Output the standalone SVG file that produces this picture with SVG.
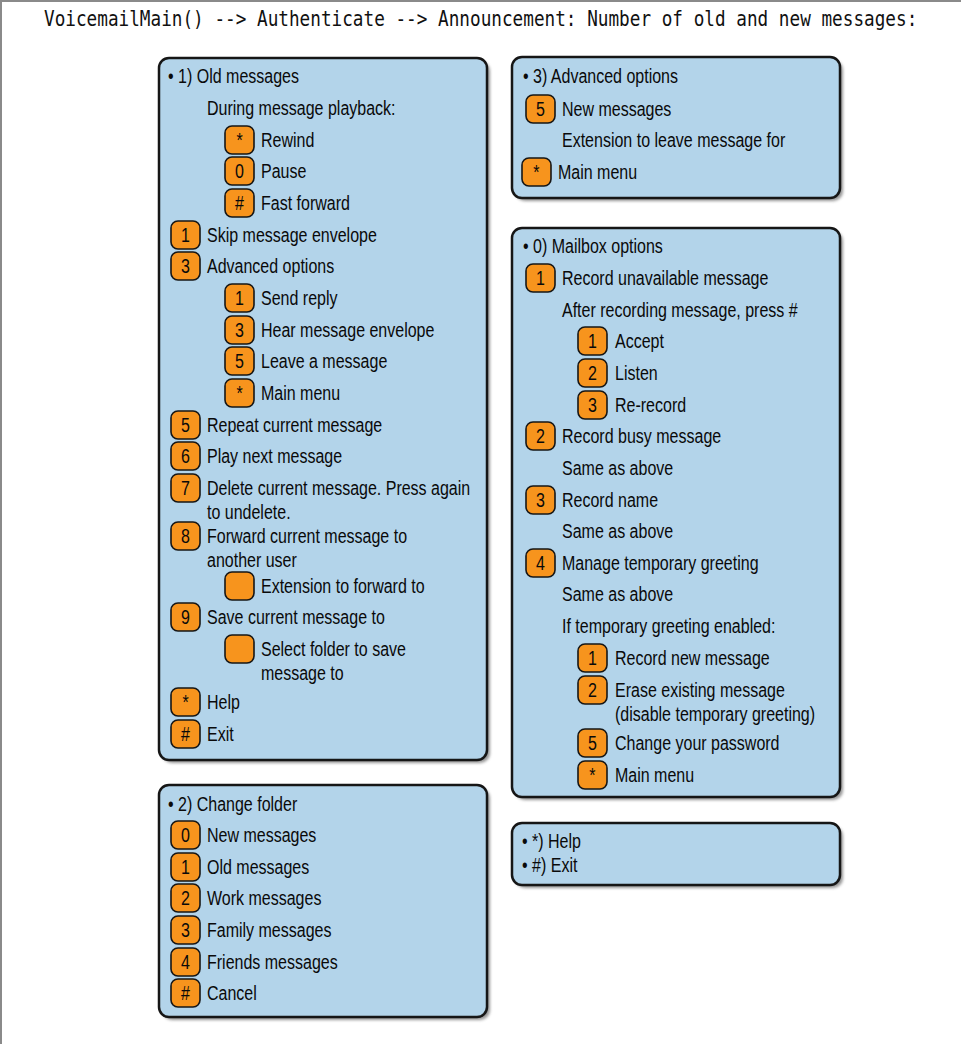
<svg xmlns="http://www.w3.org/2000/svg" width="961" height="1044" viewBox="0 0 961 1044">
<defs>
<filter id="blur" x="-5%" y="-5%" width="110%" height="110%"><feGaussianBlur stdDeviation="1.6"/></filter>
</defs>
<style>
.bg{fill:#ffffff}
.frame{stroke:#8a8a8a;stroke-width:2;fill:none}
.title{font-family:"DejaVu Sans Mono","Liberation Mono",monospace;font-size:17.7px;fill:#111}
.box{fill:#b3d4ea;stroke:#161616;stroke-width:2.5}
.sh{fill:#6f6f6f;opacity:0.75;filter:url(#blur)}
.k{fill:#f7941d;stroke:#161616;stroke-width:1.6}
.t{font-family:"Liberation Sans",Arial,sans-serif;font-size:20px;fill:#0a0a0a}
.kl{font-family:"Liberation Sans",Arial,sans-serif;font-size:20px;fill:#0a0a0a;text-anchor:middle}
</style>
<rect class="bg" x="0" y="0" width="961" height="1044"/>
<line class="frame" x1="0" y1="1" x2="961" y2="1"/>
<line class="frame" x1="1" y1="0" x2="1" y2="1044"/>
<text class="title" transform="translate(44 26) scale(1 1.15)" x="0" y="0">VoicemailMain() --&gt; Authenticate --&gt; Announcement: Number of old and new messages:</text>

<g id="old-messages">
<rect class="sh" x="162" y="61" width="328" height="702" rx="10"/>
<rect class="box" x="159" y="58" width="328" height="702" rx="10"/>
<rect class="k" x="225" y="126" width="29" height="28" rx="7"/>
<rect class="k" x="225" y="157" width="29" height="28" rx="7"/>
<rect class="k" x="225" y="189" width="29" height="28" rx="7"/>
<rect class="k" x="171" y="221" width="29" height="28" rx="7"/>
<rect class="k" x="171" y="252" width="29" height="28" rx="7"/>
<rect class="k" x="225" y="284" width="29" height="28" rx="7"/>
<rect class="k" x="225" y="316" width="29" height="28" rx="7"/>
<rect class="k" x="225" y="347" width="29" height="28" rx="7"/>
<rect class="k" x="225" y="379" width="29" height="28" rx="7"/>
<rect class="k" x="171" y="411" width="29" height="28" rx="7"/>
<rect class="k" x="171" y="442" width="29" height="28" rx="7"/>
<rect class="k" x="171" y="474" width="29" height="28" rx="7"/>
<rect class="k" x="171" y="522" width="29" height="28" rx="7"/>
<rect class="k" x="225" y="572" width="29" height="28" rx="7"/>
<rect class="k" x="171" y="603" width="29" height="28" rx="7"/>
<rect class="k" x="225" y="635" width="29" height="28" rx="7"/>
<rect class="k" x="171" y="688" width="29" height="28" rx="7"/>
<rect class="k" x="171" y="720" width="29" height="28" rx="7"/>
<g transform="scale(0.8 1)">
<text class="t" x="210" y="83">• 1) Old messages</text>
<text class="t" x="258.75" y="115">During message playback:</text>
<text class="kl" x="299.4" y="147">*</text><text class="t" x="326.25" y="147">Rewind</text>
<text class="kl" x="299.4" y="178">0</text><text class="t" x="326.25" y="178">Pause</text>
<text class="kl" x="299.4" y="210">#</text><text class="t" x="326.25" y="210">Fast forward</text>
<text class="kl" x="231.9" y="242">1</text><text class="t" x="258.75" y="242">Skip message envelope</text>
<text class="kl" x="231.9" y="273">3</text><text class="t" x="258.75" y="273">Advanced options</text>
<text class="kl" x="299.4" y="305">1</text><text class="t" x="326.25" y="305">Send reply</text>
<text class="kl" x="299.4" y="337">3</text><text class="t" x="326.25" y="337">Hear message envelope</text>
<text class="kl" x="299.4" y="368">5</text><text class="t" x="326.25" y="368">Leave a message</text>
<text class="kl" x="299.4" y="400">*</text><text class="t" x="326.25" y="400">Main menu</text>
<text class="kl" x="231.9" y="432">5</text><text class="t" x="258.75" y="432">Repeat current message</text>
<text class="kl" x="231.9" y="463">6</text><text class="t" x="258.75" y="463">Play next message</text>
<text class="kl" x="231.9" y="495">7</text><text class="t" x="258.75" y="495">Delete current message. Press again</text>
<text class="t" x="258.75" y="519">to undelete.</text>
<text class="kl" x="231.9" y="543">8</text><text class="t" x="258.75" y="543">Forward current message to</text>
<text class="t" x="258.75" y="567">another user</text>
<text class="t" x="326.25" y="593">Extension to forward to</text>
<text class="kl" x="231.9" y="624">9</text><text class="t" x="258.75" y="624">Save current message to</text>
<text class="t" x="326.25" y="656">Select folder to save</text>
<text class="t" x="326.25" y="680">message to</text>
<text class="kl" x="231.9" y="709">*</text><text class="t" x="258.75" y="709">Help</text>
<text class="kl" x="231.9" y="741">#</text><text class="t" x="258.75" y="741">Exit</text>
</g>
</g>

<g id="change-folder">
<rect class="sh" x="162" y="788" width="328" height="232" rx="10"/>
<rect class="box" x="159" y="785" width="328" height="232" rx="10"/>
<rect class="k" x="171" y="821" width="29" height="28" rx="7"/>
<rect class="k" x="171" y="853" width="29" height="28" rx="7"/>
<rect class="k" x="171" y="884" width="29" height="28" rx="7"/>
<rect class="k" x="171" y="916" width="29" height="28" rx="7"/>
<rect class="k" x="171" y="948" width="29" height="28" rx="7"/>
<rect class="k" x="171" y="979" width="29" height="28" rx="7"/>
<g transform="scale(0.8 1)">
<text class="t" x="210" y="811">• 2) Change folder</text>
<text class="kl" x="231.9" y="842">0</text><text class="t" x="258.75" y="842">New messages</text>
<text class="kl" x="231.9" y="874">1</text><text class="t" x="258.75" y="874">Old messages</text>
<text class="kl" x="231.9" y="905">2</text><text class="t" x="258.75" y="905">Work messages</text>
<text class="kl" x="231.9" y="937">3</text><text class="t" x="258.75" y="937">Family messages</text>
<text class="kl" x="231.9" y="969">4</text><text class="t" x="258.75" y="969">Friends messages</text>
<text class="kl" x="231.9" y="1000">#</text><text class="t" x="258.75" y="1000">Cancel</text>
</g>
</g>

<g id="advanced-options">
<rect class="sh" x="515" y="60" width="328" height="141" rx="10"/>
<rect class="box" x="512" y="57" width="328" height="141" rx="10"/>
<rect class="k" x="526" y="95" width="29" height="28" rx="7"/>
<rect class="k" x="522" y="158" width="29" height="28" rx="7"/>
<g transform="scale(0.8 1)">
<text class="t" x="653.75" y="83">• 3) Advanced options</text>
<text class="kl" x="675.6" y="116">5</text><text class="t" x="702.5" y="116">New messages</text>
<text class="t" x="702.5" y="147">Extension to leave message for</text>
<text class="kl" x="670.6" y="179">*</text><text class="t" x="697.5" y="179">Main menu</text>
</g>
</g>

<g id="mailbox-options">
<rect class="sh" x="515" y="231" width="328" height="569" rx="10"/>
<rect class="box" x="512" y="228" width="328" height="569" rx="10"/>
<rect class="k" x="526" y="264" width="29" height="28" rx="7"/>
<rect class="k" x="578" y="327" width="29" height="28" rx="7"/>
<rect class="k" x="578" y="359" width="29" height="28" rx="7"/>
<rect class="k" x="578" y="391" width="29" height="28" rx="7"/>
<rect class="k" x="526" y="422" width="29" height="28" rx="7"/>
<rect class="k" x="526" y="486" width="29" height="28" rx="7"/>
<rect class="k" x="526" y="549" width="29" height="28" rx="7"/>
<rect class="k" x="578" y="644" width="29" height="28" rx="7"/>
<rect class="k" x="578" y="676" width="29" height="28" rx="7"/>
<rect class="k" x="578" y="729" width="29" height="28" rx="7"/>
<rect class="k" x="578" y="761" width="29" height="28" rx="7"/>
<g transform="scale(0.8 1)">
<text class="t" x="653.75" y="253">• 0) Mailbox options</text>
<text class="kl" x="675.6" y="285">1</text><text class="t" x="702.5" y="285">Record unavailable message</text>
<text class="t" x="702.5" y="317">After recording message, press #</text>
<text class="kl" x="740.6" y="348">1</text><text class="t" x="768.75" y="348">Accept</text>
<text class="kl" x="740.6" y="380">2</text><text class="t" x="768.75" y="380">Listen</text>
<text class="kl" x="740.6" y="412">3</text><text class="t" x="768.75" y="412">Re-record</text>
<text class="kl" x="675.6" y="443">2</text><text class="t" x="702.5" y="443">Record busy message</text>
<text class="t" x="702.5" y="475">Same as above</text>
<text class="kl" x="675.6" y="507">3</text><text class="t" x="702.5" y="507">Record name</text>
<text class="t" x="702.5" y="538">Same as above</text>
<text class="kl" x="675.6" y="570">4</text><text class="t" x="702.5" y="570">Manage temporary greeting</text>
<text class="t" x="702.5" y="601">Same as above</text>
<text class="t" x="702.5" y="633">If temporary greeting enabled:</text>
<text class="kl" x="740.6" y="665">1</text><text class="t" x="768.75" y="665">Record new message</text>
<text class="kl" x="740.6" y="697">2</text><text class="t" x="768.75" y="697">Erase existing message</text>
<text class="t" x="768.75" y="721">(disable temporary greeting)</text>
<text class="kl" x="740.6" y="750">5</text><text class="t" x="768.75" y="750">Change your password</text>
<text class="kl" x="740.6" y="782">*</text><text class="t" x="768.75" y="782">Main menu</text>
</g>
</g>

<g id="help-exit">
<rect class="sh" x="515" y="826" width="328" height="62" rx="10"/>
<rect class="box" x="512" y="823" width="328" height="62" rx="10"/>
<g transform="scale(0.8 1)">
<text class="t" x="652.5" y="848">• *) Help</text>
<text class="t" x="652.5" y="872">• #) Exit</text>
</g>
</g>
</svg>
